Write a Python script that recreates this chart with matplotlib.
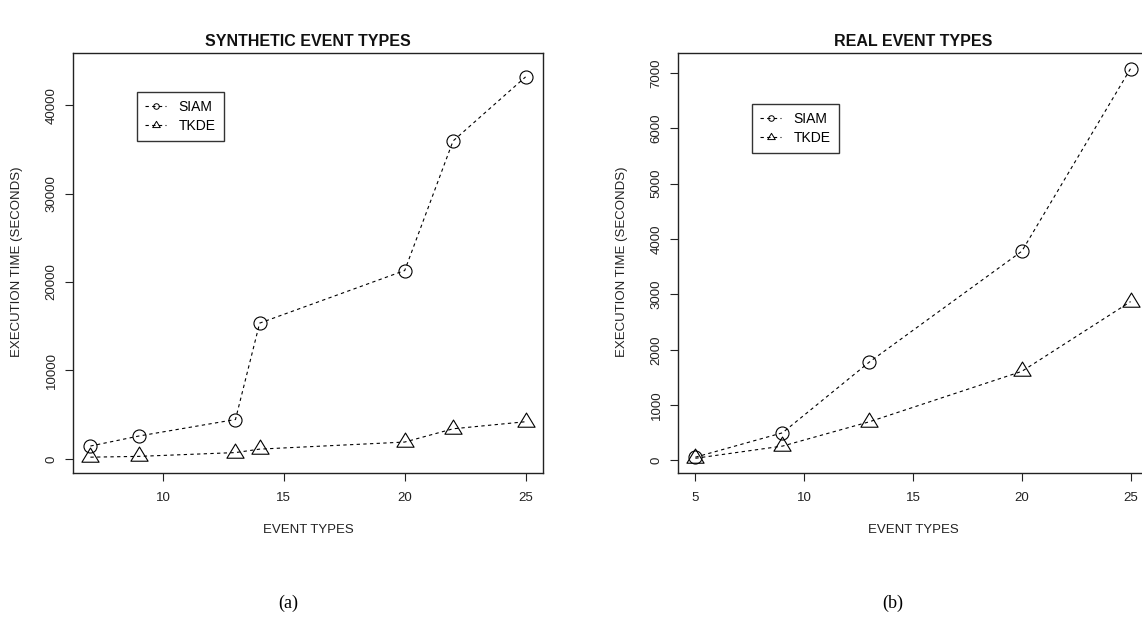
import numpy as np
import matplotlib.pyplot as plt
from matplotlib.path import Path
from matplotlib.lines import Line2D

plt.rcParams['font.family'] = ['Liberation Sans', 'DejaVu Sans']

# synthetic event types
syn_x = [7, 9, 13, 14, 20, 22, 25]
syn_siam = [1450, 2580, 4450, 15350, 21300, 35950, 43200]
syn_tkde = [190, 280, 710, 1100, 1900, 3400, 4200]

# real event types
real_x = [5, 9, 13, 20, 25]
real_siam = [60, 500, 1780, 3780, 7080]
real_tkde = [40, 260, 700, 1610, 2870]

W, H = 1142, 617
fig = plt.figure(figsize=(W / 100, H / 100), dpi=100)

# R style open triangle, centroid on the point
tri = Path([(-1, -0.55), (1, -0.55), (0, 1.1), (-1, -0.55)],
           [Path.MOVETO, Path.LINETO, Path.LINETO, Path.CLOSEPOLY])


def px(x0, y0, x1, y1):
    return [x0 / W, 1 - y1 / H, (x1 - x0) / W, (y1 - y0) / H]


def panel(rect, x, s1, s2, xlim, ylim, xticks, yticks, title, lx, leg, cap, capx):
    ax = fig.add_axes(rect)
    ax.plot(x, s1, ls=(0, (3, 3)), lw=0.8, color='black', marker='o', ms=9.4,
            mfc='none', mec='black', mew=0.8)
    ax.plot(x, s2, ls=(0, (3, 3)), lw=0.8, color='black', marker=tri, ms=13.6,
            mfc='none', mec='black', mew=0.8)
    ax.set_xlim(*xlim)
    ax.set_ylim(*ylim)
    ax.set_xticks(xticks)
    ax.set_yticks(yticks)
    ax.set_yticklabels([str(v) for v in yticks], rotation=90, va='center')
    ax.tick_params(direction='out', length=6, width=0.8, labelsize=9.5,
                   colors='#222222')
    ax.tick_params(axis='x', pad=8)
    ax.tick_params(axis='y', pad=5)
    for sp in ax.spines.values():
        sp.set_linewidth(1.0)
        sp.set_color('#222222')
    h1 = Line2D([], [], ls=(0, (3, 3)), lw=0.8, color='black', marker='o', ms=4,
                mfc='none', mec='black', mew=0.7)
    h2 = Line2D([], [], ls=(0, (3, 3)), lw=0.8, color='black', marker=tri, ms=6,
                mfc='none', mec='black', mew=0.7)
    lg = ax.legend([h1, h2], ['SIAM', 'TKDE'], loc='upper left',
                   bbox_to_anchor=((leg[0] - rect[0] * W) / (rect[2] * W),
                                   ((H - leg[1]) / H - rect[1]) / rect[3]),
                   fontsize=10, frameon=True, fancybox=False, handlelength=1.5,
                   handletextpad=0.9, borderpad=0.6, labelspacing=0.3,
                   borderaxespad=0)
    lg.get_frame().set_edgecolor('black')
    lg.get_frame().set_linewidth(1.0)
    cx = (rect[0] + rect[2] / 2)
    fig.text(cx, 1 - 42 / H, title, ha='center', va='center', fontsize=11.5,
             fontweight='bold', color='#111111')
    fig.text(cx, 1 - 530 / H, 'EVENT TYPES', ha='center', va='center',
             fontsize=9.5, color='#222222')
    fig.text(lx / W, 1 - 262 / H, 'EXECUTION TIME (SECONDS)', ha='center',
             va='center', rotation=90, fontsize=9.5, color='#222222')
    fig.text(capx / W, 1 - 603 / H, cap, ha='center', va='center', fontsize=13,
             family=['Liberation Serif', 'DejaVu Serif'])
    return ax


panel(px(73, 53, 543, 473), syn_x, syn_siam, syn_tkde,
      (6.28, 25.72), (-1600, 45900), [10, 15, 20, 25],
      [0, 10000, 20000, 30000, 40000],
      'SYNTHETIC EVENT TYPES', 17, (137, 92), '(a)', 288)

panel(px(678, 53, 1148, 473), real_x, real_siam, real_tkde,
      (4.2, 25.8), (-226, 7361), [5, 10, 15, 20, 25],
      [0, 1000, 2000, 3000, 4000, 5000, 6000, 7000],
      'REAL EVENT TYPES', 622, (752, 104), '(b)', 893)

fig.savefig('out.png', dpi=100)
